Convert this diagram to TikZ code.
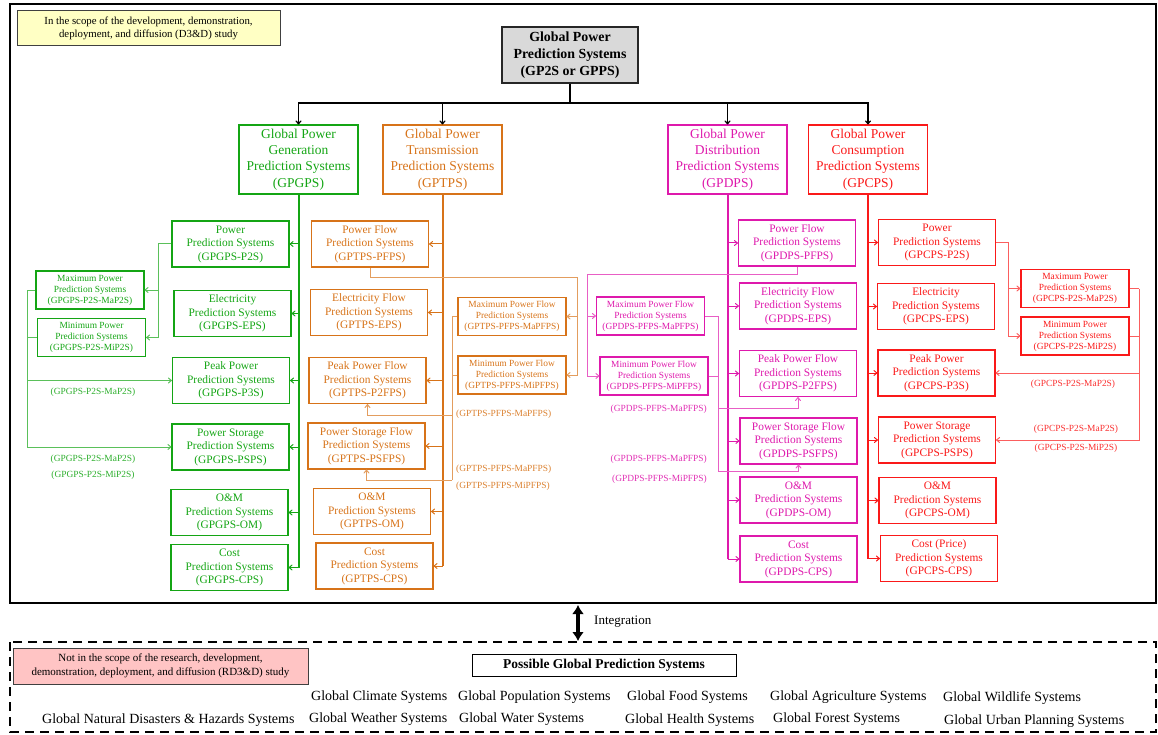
\documentclass[tikz,border=0pt]{standalone}
\usepackage{fontspec}
\setmainfont{Liberation Serif}
\usetikzlibrary{arrows.meta,calc}
\definecolor{cg}{RGB}{20,165,20}
\definecolor{co}{RGB}{215,115,25}
\definecolor{cm}{RGB}{222,25,172}
\definecolor{cr}{RGB}{250,25,25}
\definecolor{notey}{RGB}{255,255,196}
\definecolor{notep}{RGB}{255,196,196}
\definecolor{topg}{RGB}{217,217,217}
\begin{document}
\begin{tikzpicture}[x=1pt,y=-1pt,
  >={To[length=4pt,width=6pt]},
  topbox/.style={draw=black!85,fill=topg,line width=1.1pt,minimum width=136pt,minimum height=56pt,align=center,inner sep=2pt,font=\bfseries\fontsize{13.9}{17}\selectfont},
  lone/.style={draw=#1,text=#1,line width=1.2pt,minimum width=119pt,minimum height=69pt,align=center,inner sep=2pt,font=\fontsize{13.5}{16.3}\selectfont},
  ltwo/.style={draw=#1,text=#1,line width=1.2pt,minimum width=117pt,minimum height=46pt,align=center,inner sep=2pt,font=\fontsize{11.4}{13.5}\selectfont},
  lsm/.style={draw=#1,text=#1,line width=1.2pt,minimum width=108pt,minimum height=38pt,align=center,inner sep=1pt,font=\fontsize{9.4}{11}\selectfont},
  lab/.style={text=#1!90,font=\fontsize{9.4}{11}\selectfont,inner sep=0pt},
  trunk/.style={draw=#1,line width=2pt},
  br/.style={draw=#1,line width=1pt,->},
  sub/.style={draw=#1!70,line width=1pt},
  blk/.style={draw=black,line width=1.2pt},
  note/.style={draw=black!75,line width=1pt,align=center,inner sep=1pt},
  gsys/.style={anchor=west,inner sep=0pt,font=\fontsize{14}{16}\selectfont}
]
\useasboundingbox (0,0) rectangle (1158,735);

% frames
\draw[line width=2.5pt] (10,4) rectangle (1156,603);
\draw[line width=2pt,dash pattern=on 9pt off 6pt] (10,642) rectangle (1156,732);

% notes
\node[note,fill=notey,minimum width=263pt,minimum height=35pt,font=\fontsize{10.8}{13}\selectfont] (ny) at (148.5,28.5) {In the scope of the development, demonstration,\\deployment, and diffusion (D3\&D) study};
\node[note,fill=notep,minimum width=295pt,minimum height=36pt,font=\fontsize{11}{14}\selectfont] (np) at (160.5,666) {Not in the scope of the research, development,\\demonstration, deployment, and diffusion (RD3\&D) study};

% top
\node[topbox] (top) at (570,55) {Global Power\\Prediction Systems\\(GP2S or GPPS)};

% level 1
\node[lone=cg] (gpg) at (298.5,159.5) {Global Power\\Generation\\Prediction Systems\\(GPGPS)};
\node[lone=co] (gpt) at (442.5,159.5) {Global Power\\Transmission\\Prediction Systems\\(GPTPS)};
\node[lone=cm] (gpd) at (727.5,159.5) {Global Power\\Distribution\\Prediction Systems\\(GPDPS)};
\node[lone=cr] (gpc) at (868,159.5) {Global Power\\Consumption\\Prediction Systems\\(GPCPS)};

\coordinate (bar) at (570,103);
\draw[blk] (top.south) -- (bar);
\draw[blk,->] (bar) -| (gpg.north);
\draw[blk,->] (bar) -| (gpt.north);
\draw[blk,->] (bar) -| (gpd.north);
\draw[blk,->] (bar) -| (gpc.north);

% green
\node[ltwo=cg] (gP2S) at (230.5,244) {Power\\Prediction Systems\\(GPGPS-P2S)};
\node[ltwo=cg] (gEPS) at (232.5,313.5) {Electricity\\Prediction Systems\\(GPGPS-EPS)};
\node[ltwo=cg] (gP3S) at (231,380.5) {Peak Power\\Prediction Systems\\(GPGPS-P3S)};
\node[ltwo=cg] (gPSPS) at (230.5,447) {Power Storage\\Prediction Systems\\(GPGPS-PSPS)};
\node[ltwo=cg] (gOM) at (229.5,512.5) {O\&M\\Prediction Systems\\(GPGPS-OM)};
\node[ltwo=cg] (gCPS) at (229.5,567.5) {Cost\\Prediction Systems\\(GPGPS-CPS)};
\node[lsm=cg] (gMa) at (90,290) {Maximum Power\\Prediction Systems\\(GPGPS-P2S-MaP2S)};
\node[lsm=cg] (gMi) at (91.5,337.5) {Minimum Power\\Prediction Systems\\(GPGPS-P2S-MiP2S)};

\draw[trunk=cg] (gpg.south) -- (gpg.south |- gCPS.east);
\foreach \n in {gP2S,gEPS,gP3S,gPSPS,gOM,gCPS}
  \draw[br=cg] (gpg.south |- \n.east) -- (\n.east);

\coordinate (gJ) at (158,244);
\draw[sub=cg,->] (gP2S.west) -- (gJ) |- (gMi.east);
\draw[sub=cg,->] (gJ |- gMa.east) -- (gMa.east);
\coordinate (gL) at (27,290);
\draw[sub=cg] (gMa.west) -- (gL);
\draw[sub=cg,->] (gL) |- (gPSPS.west);
\draw[sub=cg] (gMi.west) -- (gL |- gMi.west);
\draw[sub=cg,->] (gL |- gP3S.west) -- (gP3S.west);
\node[lab=cg] (lg1) at (93,392) {(GPGPS-P2S-MaP2S)};
\node[lab=cg] (lg2) at (93,459) {(GPGPS-P2S-MaP2S)};
\node[lab=cg] (lg3) at (93,475) {(GPGPS-P2S-MiP2S)};

% orange
\node[ltwo=co] (tPF) at (370,244) {Power Flow\\Prediction Systems\\(GPTPS-PFPS)};
\node[ltwo=co] (tEPS) at (369,312.5) {Electricity Flow\\Prediction Systems\\(GPTPS-EPS)};
\node[ltwo=co] (tP2F) at (367.5,380.5) {Peak Power Flow\\Prediction Systems\\(GPTPS-P2FPS)};
\node[ltwo=co] (tPSF) at (366.5,446) {Power Storage Flow\\Prediction Systems\\(GPTPS-PSFPS)};
\node[ltwo=co] (tOM) at (372,511.5) {O\&M\\Prediction Systems\\(GPTPS-OM)};
\node[ltwo=co] (tCPS) at (374.5,566) {Cost\\Prediction Systems\\(GPTPS-CPS)};
\node[lsm=co] (tMa) at (512,316.5) {Maximum Power Flow\\Prediction Systems\\(GPTPS-PFPS-MaPFPS)};
\node[lsm=co] (tMi) at (512,375) {Minimum Power Flow\\Prediction Systems\\(GPTPS-PFPS-MiPFPS)};

\draw[trunk=co] (gpt.south) -- (gpt.south |- tCPS.east);
\foreach \n in {tPF,tEPS,tP2F,tPSF,tOM,tCPS}
  \draw[br=co] (gpt.south |- \n.east) -- (\n.east);

\coordinate (tJ) at (577,277);
\draw[sub=co,->] (tPF.south) |- (tJ) |- (tMi.east);
\draw[sub=co,->] (tJ |- tMa.east) -- (tMa.east);
\coordinate (tL) at (452,316.5);
\coordinate (tB1) at (452,415);
\coordinate (tB2) at (452,480);
\draw[sub=co] (tMa.west) -- (tL) -- (tB2);
\draw[sub=co] (tMi.west) -- (tL |- tMi.west);
\draw[sub=co,->] (tB1) -| (tP2F.south);
\draw[sub=co,->] (tB2) -| (tPSF.south);
\node[lab=co,anchor=west] (lt1) at (456,414) {(GPTPS-PFPS-MaPFPS)};
\node[lab=co,anchor=west] (lt2) at (456,469) {(GPTPS-PFPS-MaPFPS)};
\node[lab=co,anchor=west] (lt3) at (456,486) {(GPTPS-PFPS-MiPFPS)};

% magenta
\node[ltwo=cm] (dPF) at (797,243) {Power Flow\\Prediction Systems\\(GPDPS-PFPS)};
\node[ltwo=cm] (dEPS) at (798,306) {Electricity Flow\\Prediction Systems\\(GPDPS-EPS)};
\node[ltwo=cm] (dP2F) at (798,373.5) {Peak Power Flow\\Prediction Systems\\(GPDPS-P2FPS)};
\node[ltwo=cm] (dPSF) at (798.5,441) {Power Storage Flow\\Prediction Systems\\(GPDPS-PSFPS)};
\node[ltwo=cm] (dOM) at (798.5,500) {O\&M\\Prediction Systems\\(GPDPS-OM)};
\node[ltwo=cm] (dCPS) at (798.5,559) {Cost\\Prediction Systems\\(GPDPS-CPS)};
\node[lsm=cm] (dMa) at (650.5,316) {Maximum Power Flow\\Prediction Systems\\(GPDPS-PFPS-MaPFPS)};
\node[lsm=cm] (dMi) at (654,376) {Minimum Power Flow\\Prediction Systems\\(GPDPS-PFPS-MiPFPS)};

\draw[trunk=cm] (gpd.south) -- (gpd.south |- dCPS.west);
\foreach \n in {dPF,dEPS,dP2F,dPSF,dOM,dCPS}
  \draw[br=cm] (gpd.south |- \n.west) -- (\n.west);

\coordinate (dJ) at (587,274);
\draw[sub=cm,->] (dPF.south) |- (dJ) |- (dMi.west);
\draw[sub=cm,->] (dJ |- dMa.west) -- (dMa.west);
\coordinate (dR) at (718,316);
\coordinate (dB1) at (718,408);
\coordinate (dB2) at (718,471);
\draw[sub=cm] (dMa.east) -- (dR) -- (dB2);
\draw[sub=cm] (dMi.east) -- (dR |- dMi.east);
\draw[sub=cm,->] (dB1) -| (dP2F.south);
\draw[sub=cm,->] (dB2) -| (dPSF.south);
\node[lab=cm,anchor=east] (ld1) at (707,409) {(GPDPS-PFPS-MaPFPS)};
\node[lab=cm,anchor=east] (ld2) at (707,459) {(GPDPS-PFPS-MaPFPS)};
\node[lab=cm,anchor=east] (ld3) at (707,479) {(GPDPS-PFPS-MiPFPS)};

% red
\node[ltwo=cr] (cP2S) at (937,242.5) {Power\\Prediction Systems\\(GPCPS-P2S)};
\node[ltwo=cr] (cEPS) at (936,306.5) {Electricity\\Prediction Systems\\(GPCPS-EPS)};
\node[ltwo=cr] (cP3S) at (936.5,373) {Peak Power\\Prediction Systems\\(GPCPS-P3S)};
\node[ltwo=cr] (cPSPS) at (937,440) {Power Storage\\Prediction Systems\\(GPCPS-PSPS)};
\node[ltwo=cr] (cOM) at (937.5,500.5) {O\&M\\Prediction Systems\\(GPCPS-OM)};
\node[ltwo=cr] (cCPS) at (939,558.5) {Cost (Price)\\Prediction Systems\\(GPCPS-CPS)};
\node[lsm=cr] (cMa) at (1075,288.5) {Maximum Power\\Prediction Systems\\(GPCPS-P2S-MaP2S)};
\node[lsm=cr] (cMi) at (1075,336) {Minimum Power\\Prediction Systems\\(GPCPS-P2S-MiP2S)};

\draw[trunk=cr] (gpc.south) -- (gpc.south |- cCPS.west);
\foreach \n in {cP2S,cEPS,cP3S,cPSPS,cOM,cCPS}
  \draw[br=cr] (gpc.south |- \n.west) -- (\n.west);

\coordinate (cJ) at (1008,242.5);
\draw[sub=cr,->] (cP2S.east) -- (cJ) |- (cMi.west);
\draw[sub=cr,->] (cJ |- cMa.west) -- (cMa.west);
\coordinate (cR) at (1139,288.5);
\draw[sub=cr] (cMa.east) -- (cR);
\draw[sub=cr,->] (cR) |- (cPSPS.east);
\draw[sub=cr] (cMi.east) -- (cR |- cMi.east);
\draw[sub=cr,->] (cR |- cP3S.east) -- (cP3S.east);
\node[lab=cr] (lc1) at (1073,384) {(GPCPS-P2S-MaP2S)};
\node[lab=cr] (lc2) at (1076,429) {(GPCPS-P2S-MaP2S)};
\node[lab=cr] (lc3) at (1076,448) {(GPCPS-P2S-MiP2S)};

% integration
\coordinate (i1) at (578,605);
\coordinate (i2) at (578,641);
\draw[line width=3.2pt,{Latex[length=9pt,width=12pt]}-{Latex[length=9pt,width=12pt]}] (i1) -- (i2);
\node[anchor=west,inner sep=0pt,font=\fontsize{13}{15}\selectfont] (integ) at (594,622) {Integration};

% possible systems
\node[draw,line width=1pt,minimum width=264pt,minimum height=22pt,inner sep=1pt,font=\bfseries\fontsize{13.5}{15}\selectfont] (pg) at (604,665) {Possible Global Prediction Systems};
\node[gsys] (s1) at (311,697) {Global Climate Systems};
\node[gsys] (s2) at (458,697) {Global Population Systems};
\node[gsys] (s3) at (627,697) {Global Food Systems};
\node[gsys] (s4) at (770,697) {Global Agriculture Systems};
\node[gsys] (s5) at (943,698) {Global Wildlife Systems};
\node[gsys] (s6) at (42,720) {Global Natural Disasters \& Hazards Systems};
\node[gsys] (s7) at (309,719) {Global Weather Systems};
\node[gsys] (s8) at (459,719) {Global Water Systems};
\node[gsys] (s9) at (625,720) {Global Health Systems};
\node[gsys] (s10) at (773,719) {Global Forest Systems};
\node[gsys] (s11) at (944,721) {Global Urban Planning Systems};
\end{tikzpicture}
\end{document}
